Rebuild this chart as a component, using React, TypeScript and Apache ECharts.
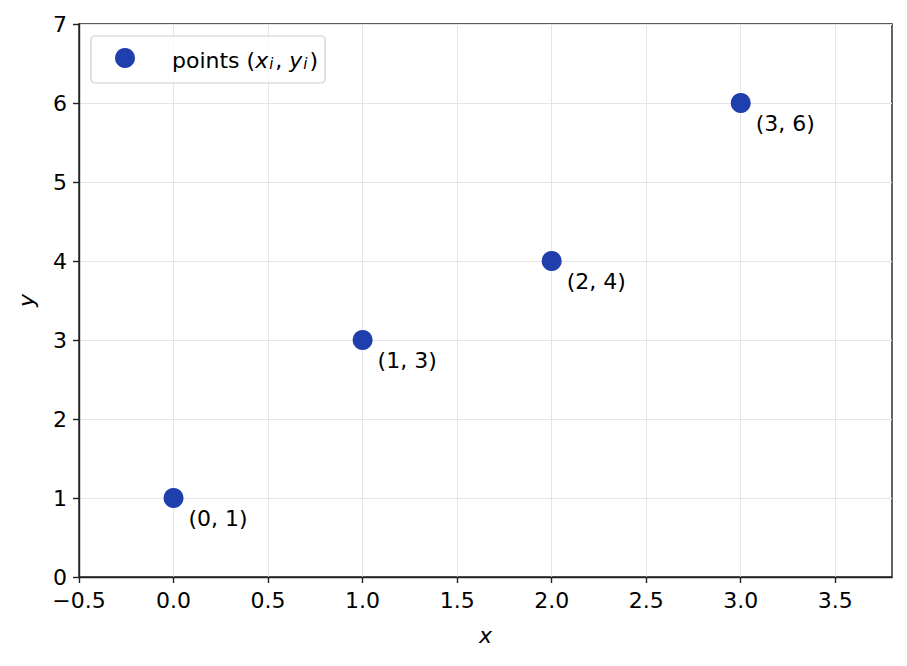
import { useEffect, useRef } from "react";
import * as echarts from "echarts";

const pointsX = [0, 1, 2, 3];
const pointsY = [1, 3, 4, 6];
const xTicks = [-0.5, 0, 0.5, 1, 1.5, 2, 2.5, 3, 3.5];
const yTicks = [0, 1, 2, 3, 4, 5, 6, 7];

const FONT = "DejaVu Sans";
const INK = "#222222";
const FS = 22;

function fmtX(v: number) {
    const s = Math.abs(v).toFixed(1);
    return v < 0 ? "\u2212" + s : s;
}

function App() {

    const chartRef =
        useRef<HTMLDivElement>(null);

    useEffect(() => {

        document.body.style.margin = "0";

        if (!chartRef.current)
            return;

        const chart =
            echarts.init(chartRef.current, null, { renderer: "svg" });

        chart.setOption({
            animation: false,
            textStyle: { fontFamily: FONT },
            grid: {
                left: 79,
                right: 15,
                top: 24,
                bottom: 89,
                show: true,
                borderColor: INK,
                borderWidth: 1.4,
                backgroundColor: "transparent"
            },
            legend: {
                left: 91,
                top: 36,
                orient: "vertical",
                icon: "circle",
                itemWidth: 20,
                itemHeight: 20,
                padding: [12, 7, 12, 24],
                borderColor: "#cccccc",
                borderWidth: 1.2,
                borderRadius: 4,
                backgroundColor: "rgba(255,255,255,0.8)",
                data: ["points"],
                formatter: () =>
                    "{n|points (}{it|x}{sub|i}{n|, }{it|y}{sub|i}{n|)}",
                textStyle: {
                    padding: [0, 0, 0, 32],
                    rich: {
                        n: { fontSize: FS, fontFamily: FONT, color: "#000", lineHeight: 26, verticalAlign: "bottom" },
                        it: { fontSize: FS, fontFamily: FONT, fontStyle: "italic", color: "#000", lineHeight: 26, verticalAlign: "bottom" },
                        sub: { fontSize: 15, fontFamily: FONT, fontStyle: "italic", color: "#000", lineHeight: 10, verticalAlign: "bottom", padding: [0, 2, 0, 1] }
                    }
                }
            },
            xAxis: {
                type: "value",
                min: -0.5,
                max: 3.8,
                interval: 0.5,
                name: "x",
                nameLocation: "middle",
                nameGap: 47,
                nameTextStyle: { fontSize: FS, fontStyle: "italic", color: "#000", fontFamily: FONT },
                axisLine: { show: true, onZero: false, lineStyle: { color: INK, width: 1.4 } },
                axisTick: {
                    show: true,
                    length: 6,
                    lineStyle: { color: INK, width: 1.4 },
                    customValues: xTicks
                },
                axisLabel: {
                    color: "#000",
                    fontSize: FS,
                    lineHeight: 20,
                    margin: 13,
                    customValues: xTicks,
                    formatter: (v: number) => fmtX(v)
                },
                splitLine: { show: true, lineStyle: { color: "#e5e5e5", width: 1 } }
            },
            yAxis: {
                type: "value",
                min: 0,
                max: 7,
                interval: 1,
                name: "y",
                nameLocation: "middle",
                nameGap: 42,
                nameTextStyle: { fontSize: FS, fontStyle: "italic", color: "#000", fontFamily: FONT },
                axisLine: { show: true, onZero: false, lineStyle: { color: INK, width: 1.4 } },
                axisTick: {
                    show: true,
                    length: 6,
                    lineStyle: { color: INK, width: 1.4 },
                    customValues: yTicks
                },
                axisLabel: {
                    color: "#000",
                    fontSize: FS,
                    lineHeight: 20,
                    margin: 12,
                    customValues: yTicks
                },
                splitLine: { show: true, lineStyle: { color: "#e5e5e5", width: 1 } }
            },
            series: [
                {
                    name: "points",
                    type: "scatter",
                    symbol: "circle",
                    symbolSize: 20,
                    itemStyle: { color: "#1f3fad", opacity: 1 },
                    data: pointsX.map((x, i) => [x, pointsY[i]]),
                    label: {
                        show: true,
                        position: "right",
                        distance: 5,
                        offset: [0, 20],
                        color: "#000",
                        fontSize: FS,
                        fontFamily: FONT,
                        formatter: (p: any) => `(${p.value[0]}, ${p.value[1]})`
                    }
                }
            ]
        });

        return () => {
            chart.dispose();
        };

    }, []);

    return (
        <div
            ref={chartRef}
            style={{
                width: "907px",
                height: "666px"
            }}
        />
    );
}

export default App;
